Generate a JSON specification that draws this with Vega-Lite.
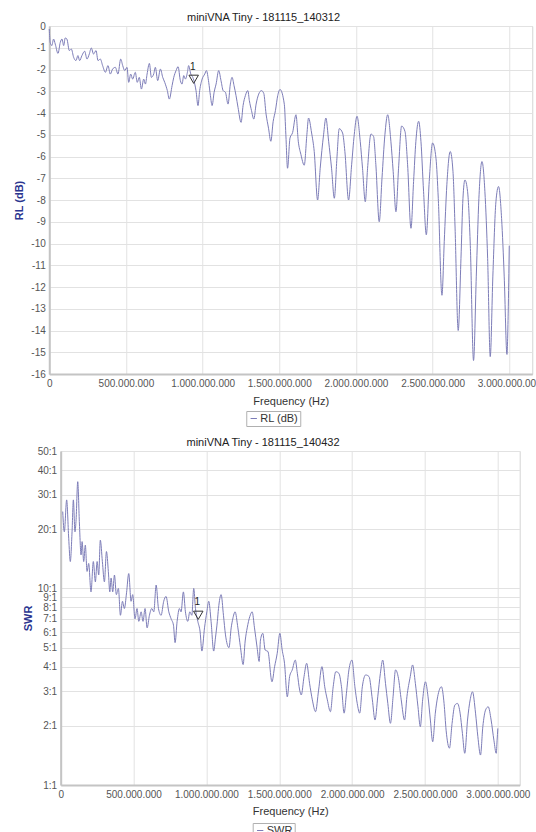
{
  "$schema": "https://vega.github.io/schema/vega-lite/v6.json",
  "padding": {"left": 13, "top": 11, "right": 0, "bottom": 0},
  "config": {
    "font": "Liberation Sans",
    "locale": {"number": {"decimal": ",", "thousands": ".", "grouping": [3], "currency": ["", ""], "minus": "-"}},
    "view": {"stroke": "#d4d4d4", "strokeWidth": 1},
    "axis": {"gridColor": "#e2e2e2", "gridWidth": 1, "domainColor": "#c4c4c4", "domainWidth": 2, "ticks": false, "labelColor": "#555555", "labelFontSize": 10, "labelFlush": false, "labelOverlap": false, "labelPadding": 4},
    "title": {"fontSize": 11, "fontWeight": "normal", "color": "#222222", "offset": -2, "anchor": "middle", "frame": "bounds"},
    "legend": {"orient": "none", "title": null, "symbolType": "stroke", "symbolSize": 40, "symbolStrokeWidth": 1, "strokeColor": "#b0b0b0", "padding": 2, "labelFontSize": 11, "labelColor": "#333333", "labelOffset": 1, "symbolOffset": 0}
  },
  "datasets": {
    "rl": [
      {"f": 0, "db": -0.14}, {"f": 6000000, "db": -0.75}, {"f": 17000000, "db": -0.9}, {"f": 28000000, "db": -0.6}, {"f": 39000000, "db": -0.83}, {"f": 57000000, "db": -1.26}, {"f": 72000000, "db": -0.75}, {"f": 83000000, "db": -0.6}, {"f": 94000000, "db": -0.9}, {"f": 104000000, "db": -0.55}, {"f": 115000000, "db": -0.6}, {"f": 131000000, "db": -1.13}, {"f": 144000000, "db": -1.06}, {"f": 159000000, "db": -1.44}, {"f": 174000000, "db": -1.59}, {"f": 187000000, "db": -1.36}, {"f": 198000000, "db": -1.59}, {"f": 213000000, "db": -1.36}, {"f": 231000000, "db": -1.16}, {"f": 246000000, "db": -1.52}, {"f": 261000000, "db": -1.29}, {"f": 274000000, "db": -1.01}, {"f": 289000000, "db": -1.29}, {"f": 305000000, "db": -1.13}, {"f": 318000000, "db": -1.59}, {"f": 333000000, "db": -1.52}, {"f": 348000000, "db": -1.82}, {"f": 366000000, "db": -2.13}, {"f": 383000000, "db": -1.82}, {"f": 398000000, "db": -2.21}, {"f": 413000000, "db": -1.98}, {"f": 431000000, "db": -1.9}, {"f": 448000000, "db": -2.21}, {"f": 466000000, "db": -1.52}, {"f": 479000000, "db": -1.82}, {"f": 492000000, "db": -2.05}, {"f": 507000000, "db": -1.9}, {"f": 518000000, "db": -2.59}, {"f": 531000000, "db": -2.21}, {"f": 544000000, "db": -2.44}, {"f": 561000000, "db": -2.13}, {"f": 574000000, "db": -2.59}, {"f": 587000000, "db": -2.36}, {"f": 601000000, "db": -2.9}, {"f": 616000000, "db": -2.44}, {"f": 627000000, "db": -2.67}, {"f": 638000000, "db": -2.21}, {"f": 653000000, "db": -1.72}, {"f": 666000000, "db": -2.36}, {"f": 681000000, "db": -2.21}, {"f": 692000000, "db": -1.9}, {"f": 707000000, "db": -2.51}, {"f": 725000000, "db": -1.98}, {"f": 740000000, "db": -2.36}, {"f": 753000000, "db": -2.59}, {"f": 770000000, "db": -2.97}, {"f": 783000000, "db": -3.36}, {"f": 801000000, "db": -2.74}, {"f": 812000000, "db": -2.36}, {"f": 827000000, "db": -2.05}, {"f": 840000000, "db": -1.87}, {"f": 855000000, "db": -2.51}, {"f": 866000000, "db": -2.67}, {"f": 877000000, "db": -2.28}, {"f": 888000000, "db": -2.44}, {"f": 901000000, "db": -2.13}, {"f": 909000000, "db": -1.82}, {"f": 923000000, "db": -2.21}, {"f": 936000000, "db": -2.36}, {"f": 949000000, "db": -2.67}, {"f": 957000000, "db": -2.97}, {"f": 970000000, "db": -3.66}, {"f": 981000000, "db": -2.97}, {"f": 997000000, "db": -2.44}, {"f": 1014000000, "db": -2.21}, {"f": 1025000000, "db": -2.05}, {"f": 1040000000, "db": -2.59}, {"f": 1051000000, "db": -3.2}, {"f": 1062000000, "db": -3.66}, {"f": 1075000000, "db": -3.05}, {"f": 1088000000, "db": -2.67}, {"f": 1105000000, "db": -2.05}, {"f": 1120000000, "db": -2.51}, {"f": 1134000000, "db": -2.97}, {"f": 1149000000, "db": -3.05}, {"f": 1166000000, "db": -3.59}, {"f": 1181000000, "db": -2.67}, {"f": 1192000000, "db": -2.36}, {"f": 1205000000, "db": -2.74}, {"f": 1218000000, "db": -3.2}, {"f": 1231000000, "db": -3.74}, {"f": 1251000000, "db": -4.43}, {"f": 1264000000, "db": -3.66}, {"f": 1279000000, "db": -3.2}, {"f": 1295000000, "db": -2.97}, {"f": 1305000000, "db": -3.43}, {"f": 1319000000, "db": -3.89}, {"f": 1334000000, "db": -4.28}, {"f": 1349000000, "db": -3.59}, {"f": 1366000000, "db": -3.13}, {"f": 1384000000, "db": -2.97}, {"f": 1399000000, "db": -3.1}, {"f": 1414000000, "db": -4.05}, {"f": 1430000000, "db": -4.7}, {"f": 1445000000, "db": -5.3}, {"f": 1460000000, "db": -4.4}, {"f": 1475000000, "db": -3.89}, {"f": 1490000000, "db": -3.2}, {"f": 1505000000, "db": -2.92}, {"f": 1533000000, "db": -3.6}, {"f": 1543000000, "db": -5.0}, {"f": 1554000000, "db": -6.54}, {"f": 1570000000, "db": -5.15}, {"f": 1587000000, "db": -4.9}, {"f": 1609000000, "db": -4.08}, {"f": 1624000000, "db": -5.3}, {"f": 1641000000, "db": -5.9}, {"f": 1663000000, "db": -6.4}, {"f": 1680000000, "db": -5.0}, {"f": 1691000000, "db": -4.23}, {"f": 1711000000, "db": -4.92}, {"f": 1728000000, "db": -5.77}, {"f": 1750000000, "db": -8.0}, {"f": 1767000000, "db": -6.54}, {"f": 1789000000, "db": -5.0}, {"f": 1804000000, "db": -4.23}, {"f": 1822000000, "db": -5.3}, {"f": 1841000000, "db": -6.54}, {"f": 1859000000, "db": -7.92}, {"f": 1876000000, "db": -6.08}, {"f": 1891000000, "db": -4.72}, {"f": 1913000000, "db": -4.92}, {"f": 1928000000, "db": -5.77}, {"f": 1952000000, "db": -8.0}, {"f": 1972000000, "db": -6.38}, {"f": 1989000000, "db": -5.0}, {"f": 2007000000, "db": -4.15}, {"f": 2028000000, "db": -5.3}, {"f": 2043000000, "db": -6.54}, {"f": 2061000000, "db": -8.08}, {"f": 2076000000, "db": -6.54}, {"f": 2098000000, "db": -4.97}, {"f": 2115000000, "db": -5.08}, {"f": 2130000000, "db": -6.38}, {"f": 2152000000, "db": -9.0}, {"f": 2170000000, "db": -7.0}, {"f": 2189000000, "db": -5.0}, {"f": 2207000000, "db": -4.08}, {"f": 2228000000, "db": -5.3}, {"f": 2243000000, "db": -6.7}, {"f": 2261000000, "db": -8.54}, {"f": 2278000000, "db": -6.54}, {"f": 2298000000, "db": -4.6}, {"f": 2320000000, "db": -4.85}, {"f": 2337000000, "db": -6.38}, {"f": 2359000000, "db": -9.3}, {"f": 2376000000, "db": -7.15}, {"f": 2391000000, "db": -5.3}, {"f": 2409000000, "db": -4.38}, {"f": 2424000000, "db": -5.3}, {"f": 2441000000, "db": -7.6}, {"f": 2459000000, "db": -9.6}, {"f": 2478000000, "db": -7.15}, {"f": 2500000000, "db": -5.38}, {"f": 2522000000, "db": -6.08}, {"f": 2537000000, "db": -7.92}, {"f": 2561000000, "db": -12.38}, {"f": 2576000000, "db": -9.92}, {"f": 2593000000, "db": -7.3}, {"f": 2615000000, "db": -5.77}, {"f": 2633000000, "db": -6.7}, {"f": 2646000000, "db": -9.15}, {"f": 2667000000, "db": -14.0}, {"f": 2685000000, "db": -10.7}, {"f": 2698000000, "db": -7.92}, {"f": 2711000000, "db": -7.08}, {"f": 2728000000, "db": -7.6}, {"f": 2746000000, "db": -10.1}, {"f": 2767000000, "db": -15.38}, {"f": 2785000000, "db": -11.5}, {"f": 2802000000, "db": -7.92}, {"f": 2822000000, "db": -6.23}, {"f": 2841000000, "db": -7.6}, {"f": 2859000000, "db": -10.7}, {"f": 2876000000, "db": -15.2}, {"f": 2893000000, "db": -11.5}, {"f": 2913000000, "db": -8.08}, {"f": 2930000000, "db": -7.38}, {"f": 2950000000, "db": -8.85}, {"f": 2967000000, "db": -11.5}, {"f": 2985000000, "db": -15.1}, {"f": 2993000000, "db": -13.2}, {"f": 3000000000, "db": -10.1}
    ],
    "swr": [
      {"f": 14000000, "swr": 24.6}, {"f": 25000000, "swr": 19.4}, {"f": 41000000, "swr": 28.2}, {"f": 55000000, "swr": 18.0}, {"f": 66000000, "swr": 13.7}, {"f": 78000000, "swr": 19.4}, {"f": 87000000, "swr": 28.2}, {"f": 98000000, "swr": 19.4}, {"f": 105000000, "swr": 21.9}, {"f": 117000000, "swr": 34.9}, {"f": 128000000, "swr": 21.9}, {"f": 140000000, "swr": 14.8}, {"f": 147000000, "swr": 17.3}, {"f": 158000000, "swr": 13.7}, {"f": 169000000, "swr": 16.6}, {"f": 181000000, "swr": 12.2}, {"f": 192000000, "swr": 13.4}, {"f": 208000000, "swr": 9.6}, {"f": 224000000, "swr": 13.7}, {"f": 238000000, "swr": 10.8}, {"f": 250000000, "swr": 13.7}, {"f": 261000000, "swr": 11.7}, {"f": 272000000, "swr": 17.6}, {"f": 286000000, "swr": 13.7}, {"f": 300000000, "swr": 10.8}, {"f": 314000000, "swr": 15.4}, {"f": 327000000, "swr": 12.2}, {"f": 337000000, "swr": 9.6}, {"f": 346000000, "swr": 11.3}, {"f": 357000000, "swr": 9.6}, {"f": 369000000, "swr": 11.7}, {"f": 382000000, "swr": 9.3}, {"f": 396000000, "swr": 10.0}, {"f": 410000000, "swr": 7.3}, {"f": 424000000, "swr": 8.6}, {"f": 437000000, "swr": 7.9}, {"f": 452000000, "swr": 9.5}, {"f": 467000000, "swr": 11.9}, {"f": 483000000, "swr": 8.6}, {"f": 494000000, "swr": 9.3}, {"f": 510000000, "swr": 7.0}, {"f": 524000000, "swr": 7.9}, {"f": 536000000, "swr": 6.8}, {"f": 552000000, "swr": 7.6}, {"f": 565000000, "swr": 6.8}, {"f": 579000000, "swr": 7.9}, {"f": 593000000, "swr": 6.3}, {"f": 609000000, "swr": 7.3}, {"f": 625000000, "swr": 7.9}, {"f": 639000000, "swr": 7.6}, {"f": 655000000, "swr": 10.4}, {"f": 671000000, "swr": 7.9}, {"f": 689000000, "swr": 7.3}, {"f": 707000000, "swr": 8.6}, {"f": 723000000, "swr": 9.1}, {"f": 742000000, "swr": 7.6}, {"f": 758000000, "swr": 7.0}, {"f": 774000000, "swr": 6.5}, {"f": 785000000, "swr": 5.3}, {"f": 799000000, "swr": 6.8}, {"f": 815000000, "swr": 7.9}, {"f": 826000000, "swr": 7.6}, {"f": 842000000, "swr": 9.6}, {"f": 856000000, "swr": 7.6}, {"f": 872000000, "swr": 6.8}, {"f": 886000000, "swr": 7.6}, {"f": 900000000, "swr": 7.3}, {"f": 913000000, "swr": 10.0}, {"f": 925000000, "swr": 7.9}, {"f": 941000000, "swr": 6.8}, {"f": 957000000, "swr": 6.0}, {"f": 969000000, "swr": 4.8}, {"f": 987000000, "swr": 6.3}, {"f": 1003000000, "swr": 7.6}, {"f": 1016000000, "swr": 8.6}, {"f": 1032000000, "swr": 6.8}, {"f": 1050000000, "swr": 4.8}, {"f": 1062000000, "swr": 5.6}, {"f": 1075000000, "swr": 6.8}, {"f": 1083000000, "swr": 7.9}, {"f": 1101000000, "swr": 9.3}, {"f": 1117000000, "swr": 7.3}, {"f": 1131000000, "swr": 5.8}, {"f": 1155000000, "swr": 5.0}, {"f": 1170000000, "swr": 6.3}, {"f": 1181000000, "swr": 7.0}, {"f": 1197000000, "swr": 7.6}, {"f": 1216000000, "swr": 6.3}, {"f": 1234000000, "swr": 5.0}, {"f": 1252000000, "swr": 4.1}, {"f": 1266000000, "swr": 5.4}, {"f": 1280000000, "swr": 6.3}, {"f": 1298000000, "swr": 7.2}, {"f": 1314000000, "swr": 7.6}, {"f": 1330000000, "swr": 6.3}, {"f": 1348000000, "swr": 5.0}, {"f": 1362000000, "swr": 4.25}, {"f": 1371000000, "swr": 5.46}, {"f": 1387000000, "swr": 5.91}, {"f": 1403000000, "swr": 4.86}, {"f": 1422000000, "swr": 4.78}, {"f": 1450000000, "swr": 3.35}, {"f": 1468000000, "swr": 4.0}, {"f": 1486000000, "swr": 4.68}, {"f": 1504000000, "swr": 5.91}, {"f": 1520000000, "swr": 4.86}, {"f": 1536000000, "swr": 4.16}, {"f": 1555000000, "swr": 2.81}, {"f": 1571000000, "swr": 3.56}, {"f": 1589000000, "swr": 3.85}, {"f": 1610000000, "swr": 4.32}, {"f": 1624000000, "swr": 3.7}, {"f": 1640000000, "swr": 3.04}, {"f": 1651000000, "swr": 2.87}, {"f": 1670000000, "swr": 3.56}, {"f": 1688000000, "swr": 4.16}, {"f": 1708000000, "swr": 3.29}, {"f": 1727000000, "swr": 2.71}, {"f": 1749000000, "swr": 2.36}, {"f": 1770000000, "swr": 3.04}, {"f": 1793000000, "swr": 4.0}, {"f": 1812000000, "swr": 3.16}, {"f": 1830000000, "swr": 2.71}, {"f": 1851000000, "swr": 2.36}, {"f": 1870000000, "swr": 3.16}, {"f": 1888000000, "swr": 3.77}, {"f": 1909000000, "swr": 3.7}, {"f": 1927000000, "swr": 3.16}, {"f": 1945000000, "swr": 2.32}, {"f": 1961000000, "swr": 2.93}, {"f": 1978000000, "swr": 3.85}, {"f": 1999000000, "swr": 4.32}, {"f": 2019000000, "swr": 3.16}, {"f": 2035000000, "swr": 2.6}, {"f": 2052000000, "swr": 2.32}, {"f": 2070000000, "swr": 3.16}, {"f": 2093000000, "swr": 3.63}, {"f": 2116000000, "swr": 3.56}, {"f": 2139000000, "swr": 2.71}, {"f": 2157000000, "swr": 2.14}, {"f": 2176000000, "swr": 2.81}, {"f": 2194000000, "swr": 3.7}, {"f": 2210000000, "swr": 4.32}, {"f": 2229000000, "swr": 3.29}, {"f": 2245000000, "swr": 2.6}, {"f": 2263000000, "swr": 2.06}, {"f": 2281000000, "swr": 2.81}, {"f": 2298000000, "swr": 3.85}, {"f": 2318000000, "swr": 3.49}, {"f": 2337000000, "swr": 2.71}, {"f": 2360000000, "swr": 2.14}, {"f": 2376000000, "swr": 2.81}, {"f": 2399000000, "swr": 3.56}, {"f": 2415000000, "swr": 4.08}, {"f": 2434000000, "swr": 3.29}, {"f": 2452000000, "swr": 2.5}, {"f": 2468000000, "swr": 1.98}, {"f": 2484000000, "swr": 2.71}, {"f": 2503000000, "swr": 3.35}, {"f": 2521000000, "swr": 2.81}, {"f": 2537000000, "swr": 2.14}, {"f": 2553000000, "swr": 1.66}, {"f": 2571000000, "swr": 2.32}, {"f": 2587000000, "swr": 2.81}, {"f": 2613000000, "swr": 3.16}, {"f": 2631000000, "swr": 2.6}, {"f": 2645000000, "swr": 1.9}, {"f": 2668000000, "swr": 1.54}, {"f": 2686000000, "swr": 2.06}, {"f": 2705000000, "swr": 2.55}, {"f": 2723000000, "swr": 2.6}, {"f": 2741000000, "swr": 2.32}, {"f": 2757000000, "swr": 1.83}, {"f": 2773000000, "swr": 1.45}, {"f": 2792000000, "swr": 2.14}, {"f": 2810000000, "swr": 2.71}, {"f": 2826000000, "swr": 2.98}, {"f": 2847000000, "swr": 2.32}, {"f": 2863000000, "swr": 1.76}, {"f": 2881000000, "swr": 1.42}, {"f": 2897000000, "swr": 1.98}, {"f": 2916000000, "swr": 2.41}, {"f": 2934000000, "swr": 2.5}, {"f": 2954000000, "swr": 2.14}, {"f": 2973000000, "swr": 1.69}, {"f": 2989000000, "swr": 1.45}, {"f": 2995000000, "swr": 1.69}, {"f": 3000000000, "swr": 1.94}
    ],
    "m1": [{"f": 942000000, "db": -2.45, "label": "1"}],
    "m2": [{"f": 944000000, "swr": 7.3, "label": "1"}]
  },
  "align": "each",
  "center": true,
  "spacing": 9,
  "resolve": {"scale": {"color": "independent"}, "legend": {"color": "independent"}},
  "vconcat": [
    {
      "title": {"text": "miniVNA Tiny - 181115_140312", "dx": -14},
      "width": 483,
      "height": 348,
      "encoding": {
        "x": {"field": "f", "type": "quantitative", "scale": {"domain": [0, 3150000000], "nice": false},
              "axis": {"values": [0, 500000000, 1000000000, 1500000000, 2000000000, 2500000000, 3000000000], "format": ",d", "title": "Frequency (Hz)", "titleFontSize": 11, "titleFontWeight": "normal", "titleColor": "#333333", "titlePadding": 7}},
        "y": {"field": "db", "type": "quantitative", "scale": {"domain": [-16, 0], "nice": false},
              "axis": {"values": [-16, -15, -14, -13, -12, -11, -10, -9, -8, -7, -6, -5, -4, -3, -2, -1, 0], "tickCount": 17, "format": "d", "title": "RL (dB)", "titleFontSize": 11, "titleFontWeight": "bold", "titleColor": "#2b3590", "titlePadding": 6}}
      },
      "layer": [
        {
          "data": {"name": "rl"},
          "mark": {"type": "line", "strokeWidth": 1, "interpolate": "monotone"},
          "encoding": {
            "color": {"datum": "RL (dB)", "scale": {"domain": ["RL (dB)"], "range": ["#7d7db8"]}, "legend": {"legendX": 197, "legendY": 385}}
          }
        },
        {
          "data": {"name": "m1"},
          "mark": {"type": "point", "shape": "triangle-down", "filled": false, "stroke": "#333333", "strokeWidth": 1, "size": 90, "opacity": 1}
        },
        {
          "data": {"name": "m1"},
          "mark": {"type": "text", "dy": -12, "dx": -1, "fontSize": 10, "color": "#222222"},
          "encoding": {"text": {"field": "label"}}
        }
      ]
    },
    {
      "title": {"text": "miniVNA Tiny - 181115_140432", "dx": -13},
      "width": 459,
      "height": 334,
      "encoding": {
        "x": {"field": "f", "type": "quantitative", "scale": {"domain": [0, 3150000000], "nice": false},
              "axis": {"values": [0, 500000000, 1000000000, 1500000000, 2000000000, 2500000000, 3000000000], "format": ",d", "title": "Frequency (Hz)", "titleFontSize": 11, "titleFontWeight": "normal", "titleColor": "#333333", "titlePadding": 6}},
        "y": {"field": "swr", "type": "quantitative", "scale": {"type": "log", "domain": [1, 50], "nice": false},
              "axis": {"values": [1, 2, 3, 4, 5, 6, 7, 8, 9, 10, 20, 30, 40, 50], "labelExpr": "datum.value + ':1'", "title": "SWR", "titleFontSize": 11, "titleFontWeight": "bold", "titleColor": "#2b3590", "titlePadding": 4}}
      },
      "layer": [
        {
          "data": {"name": "swr"},
          "mark": {"type": "line", "strokeWidth": 1, "interpolate": "monotone"},
          "encoding": {
            "color": {"datum": "SWR", "scale": {"domain": ["SWR"], "range": ["#7d7db8"]}, "legend": {"legendX": 192, "legendY": 372}}
          }
        },
        {
          "data": {"name": "m2"},
          "mark": {"type": "point", "shape": "triangle-down", "filled": false, "stroke": "#333333", "strokeWidth": 1, "size": 90, "opacity": 1}
        },
        {
          "data": {"name": "m2"},
          "mark": {"type": "text", "dy": -13, "dx": -1, "fontSize": 10, "color": "#222222"},
          "encoding": {"text": {"field": "label"}}
        }
      ]
    }
  ]
}
